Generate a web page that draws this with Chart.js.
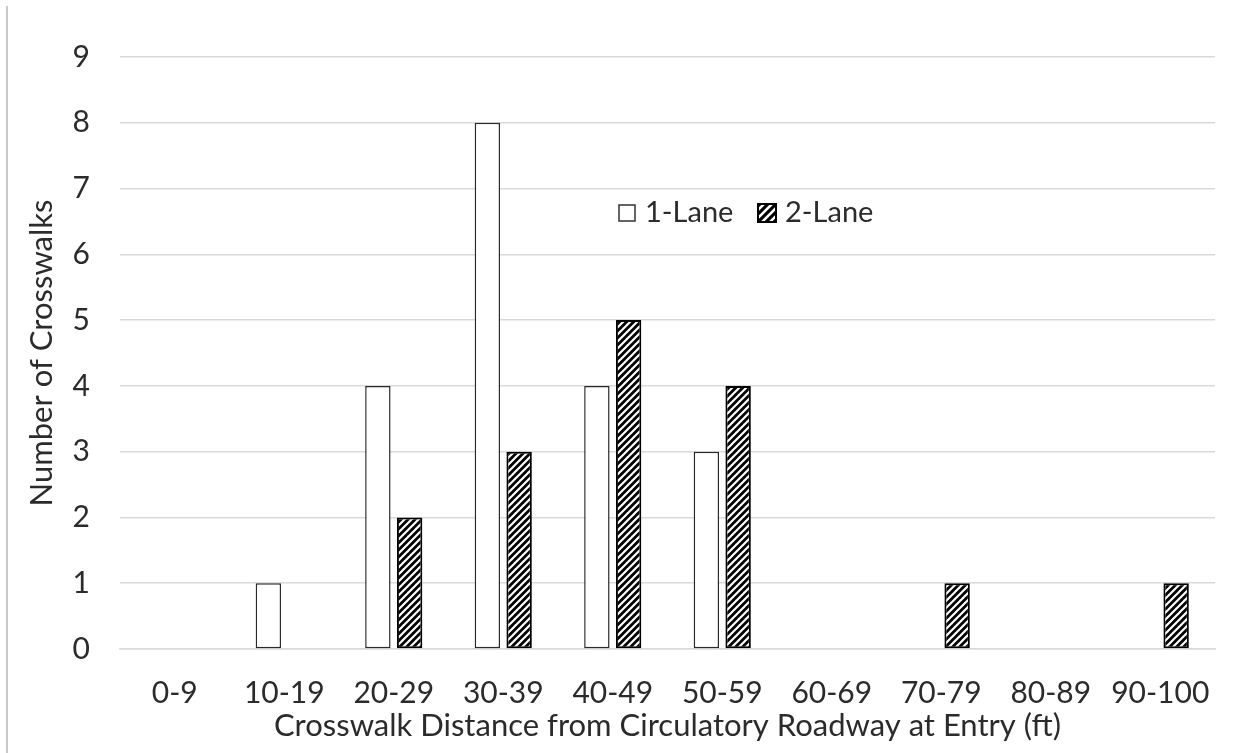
<!DOCTYPE html>
<html>
<head>
<meta charset="utf-8">
<script src="https://cdn.jsdelivr.net/npm/chart.js@4.4.1/dist/chart.umd.min.js"></script>
<style>
  html, body { margin: 0; padding: 0; background: #fff; }
  #wrap { position: relative; width: 1243px; height: 753px; }
  #edge { position: absolute; left: 6px; top: 6px; width: 2px; height: 747px; background: #c8c8c8; }
  canvas { position: absolute; left: 0; top: 0; }
</style>
</head>
<body>
<div id="wrap">
  <div id="edge"></div>
  <canvas id="c" width="1243" height="753"></canvas>
</div>
<script>
const categories = ['0-9','10-19','20-29','30-39','40-49','50-59','60-69','70-79','80-89','90-100'];
const oneLane = [0, 1, 4, 8, 4, 3, 0, 0, 0, 0];
const twoLane = [0, 0, 2, 3, 5, 4, 0, 1, 0, 1];
const seriesNames = ['1-Lane', '2-Lane'];
const yTicks = [0,1,2,3,4,5,6,7,8,9];
const xTitle = 'Crosswalk Distance from Circulatory Roadway at Entry (ft)';
const yTitle = 'Number of Crosswalks';

const FONT = 'Lato, "Open Sans", sans-serif';
const TXT = '#2b2b2b';

function makeHatch(s, lw) {
  const pc = document.createElement('canvas');
  pc.width = s; pc.height = s;
  const g = pc.getContext('2d');
  g.fillStyle = '#000';
  g.fillRect(0, 0, s, s);
  g.strokeStyle = '#fff';
  g.lineWidth = lw;
  g.beginPath();
  g.moveTo(-1, s + 1); g.lineTo(s + 1, -1);
  g.moveTo(-1 - s, s + 1); g.lineTo(1, -1);
  g.moveTo(s - 1, s + 1); g.lineTo(2 * s + 1, -1);
  g.stroke();
  return g.createPattern(pc, 'repeat');
}
const hatch = makeHatch(7, 2.2);
const hatchBig = makeHatch(8, 2.6);

const legendPlugin = {
  id: 'inlineLegend',
  afterDraw(chart) {
    const ctx = chart.ctx;
    ctx.save();
    ctx.font = '29px ' + FONT;
    ctx.textBaseline = 'middle';
    const y = 213;
    // 1-Lane
    ctx.fillStyle = '#fff';
    ctx.fillRect(619, 205, 16, 16);
    ctx.strokeStyle = '#333';
    ctx.lineWidth = 1.5;
    ctx.strokeRect(619, 205, 16, 16);
    ctx.fillStyle = TXT;
    ctx.fillText(seriesNames[0], 645, y);
    // 2-Lane
    ctx.fillStyle = hatchBig;
    ctx.fillRect(758, 204, 18, 18);
    ctx.strokeStyle = '#000';
    ctx.lineWidth = 2;
    ctx.strokeRect(758, 204, 18, 18);
    ctx.fillStyle = TXT;
    ctx.fillText(seriesNames[1], 785, y);
    ctx.restore();
  }
};

new Chart(document.getElementById('c'), {
  type: 'bar',
  data: {
    labels: categories,
    datasets: [
      {
        label: seriesNames[0],
        data: oneLane,
        backgroundColor: '#ffffff',
        borderColor: '#2a2a2a',
        borderWidth: (c) => (c.raw === 0 ? 0 : 1.5),
        borderSkipped: false,
        barPercentage: 0.8,
        categoryPercentage: 0.58
      },
      {
        label: seriesNames[1],
        data: twoLane,
        backgroundColor: hatch,
        borderColor: '#000000',
        borderWidth: (c) => (c.raw === 0 ? 0 : 2),
        borderSkipped: false,
        barPercentage: 0.8,
        categoryPercentage: 0.58
      }
    ]
  },
  options: {
    responsive: false,
    animation: false,
    devicePixelRatio: 1,
    layout: { padding: { left: 0, right: 28, top: 57, bottom: 0 } },
    plugins: {
      legend: { display: false },
      tooltip: { enabled: false }
    },
    scales: {
      x: {
        grid: { display: false, drawTicks: false },
        border: { display: true, color: '#d9d9d9', width: 1.5 },
        ticks: { color: TXT, font: { family: FONT, size: 30 }, padding: 26, maxRotation: 0, autoSkip: false },
        title: { display: true, text: xTitle, color: TXT, font: { family: FONT, size: 31 }, padding: { top: 0, bottom: 8 } },
        afterFit(s) { s.height = 104; }
      },
      y: {
        min: 0, max: 9,
        afterBuildTicks(s) { s.ticks = yTicks.map(v => ({ value: v })); },
        grid: { color: '#d9d9d9', lineWidth: 1.5, drawTicks: false },
        border: { display: false },
        ticks: { color: TXT, font: { family: FONT, size: 30 }, padding: 30 },
        title: { display: true, text: yTitle, color: TXT, font: { family: FONT, size: 31 }, padding: { top: 23, bottom: 0 } },
        afterFit(s) { s.width = 120; }
      }
    }
  },
  plugins: [legendPlugin]
});
</script>
</body>
</html>
